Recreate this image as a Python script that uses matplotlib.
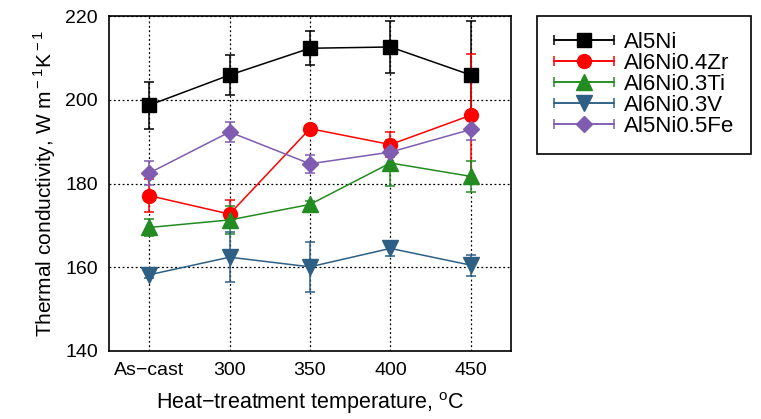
import numpy as np
import matplotlib
matplotlib.use("Agg")
import matplotlib.pyplot as plt
from matplotlib.legend_handler import HandlerErrorbar
from matplotlib.container import ErrorbarContainer

plt.rcParams['font.family'] = ['Liberation Sans', 'DejaVu Sans']
plt.rcParams['mathtext.fontset'] = 'custom'
plt.rcParams['mathtext.rm'] = 'Liberation Sans'

categories = ["As\u2212cast", "300", "350", "400", "450"]
series_names = ["Al5Ni", "Al6Ni0.4Zr", "Al6Ni0.3Ti", "Al6Ni0.3V", "Al5Ni0.5Fe"]

al5ni = [198.7, 205.9, 212.3, 212.6, 205.9]
al5ni_err = [5.6, 4.7, 4.0, 6.3, 13.0]
al6ni_zr = [177.1, 172.7, 193.1, 189.3, 196.3]
al6ni_zr_err = [4.0, 3.3, 0.8, 3.0, 14.6]
al6ni_ti = [169.5, 171.3, 175.0, 184.9, 181.7]
al6ni_ti_err = [2.0, 3.4, 0.8, 5.5, 3.7]
al6ni_v = [158.2, 162.4, 160.1, 164.5, 160.5]
al6ni_v_err = [0.8, 6.0, 6.0, 1.8, 2.5]
al5ni_fe = [182.5, 192.3, 184.7, 187.5, 192.9]
al5ni_fe_err = [2.8, 2.5, 2.2, 1.0, 2.6]

yticks = [140, 160, 180, 200, 220]

series = [al5ni, al6ni_zr, al6ni_ti, al6ni_v, al5ni_fe]
errors = [al5ni_err, al6ni_zr_err, al6ni_ti_err, al6ni_v_err, al5ni_fe_err]
colors = ["#000000", "#ff0000", "#228b22", "#2e5f84", "#7f5cb0"]
markers = ["s", "o", "^", "v", "D"]
msizes = [10, 10, 11, 11, 8]

fig = plt.figure(figsize=(7.61, 4.19), dpi=100)
ax = fig.add_axes([0.1432, 0.1623, 0.5283, 0.7995])

x = np.arange(len(categories))
handles = []
for name, ys, es, c, m, ms in zip(series_names, series, errors, colors, markers, msizes):
    ax.errorbar(x, ys, yerr=es, color=c, marker=m, markersize=ms, lw=1.1,
                elinewidth=1.1, capsize=3.5, capthick=1.1, zorder=3)
    h = ax.errorbar([np.nan], [np.nan], xerr=[1.0], color=c, marker=m, markersize=ms,
                    lw=1.1, elinewidth=1.1, capsize=3.5, capthick=1.1, label=name)
    handles.append(h)

ax.set_xlim(-0.5, 4.5)
ax.set_ylim(140, 220)
ax.set_xticks(x)
ax.set_xticklabels(categories)
ax.set_yticks(yticks)
ax.tick_params(length=0, labelsize=14, pad=8)
ax.grid(True, color='black', linestyle=(0, (1.5, 2)), linewidth=0.9)
ax.set_axisbelow(True)
for s in ax.spines.values():
    s.set_linewidth(1.2)

ax.set_xlabel("Heat\u2212treatment temperature, $^{\\rm o}$C", fontsize=15.5, labelpad=8)
ax.set_ylabel("Thermal conductivity, W m$^{\\rm \u22121}$K$^{\\rm \u22121}$", fontsize=15, labelpad=5)

leg = fig.legend(handles=handles, labels=series_names, loc='upper left',
                 bbox_to_anchor=(0.706, 0.963), fontsize=16, frameon=True,
                 fancybox=False, edgecolor='black', framealpha=1,
                 handlelength=2.7, handletextpad=0.45, labelspacing=0.0,
                 borderpad=0.75, borderaxespad=0,
                 handler_map={ErrorbarContainer: HandlerErrorbar(xerr_size=1.35)})
leg.get_frame().set_linewidth(1.2)

fig.savefig("out.png", dpi=100)
